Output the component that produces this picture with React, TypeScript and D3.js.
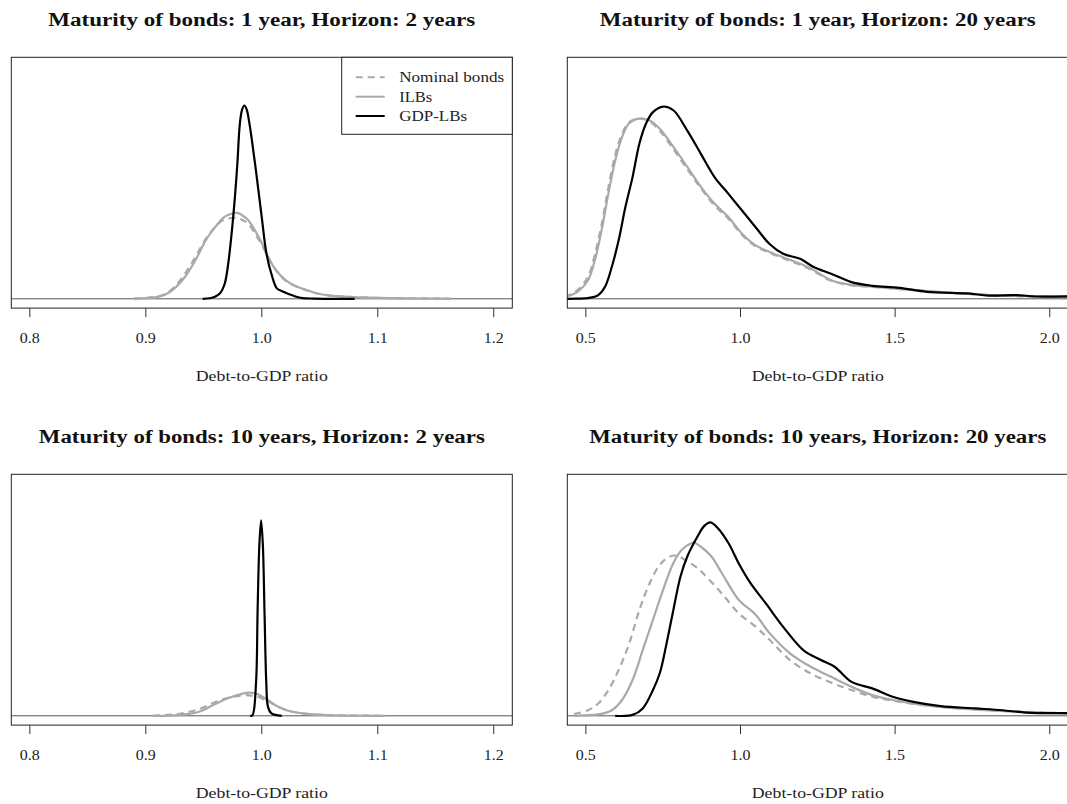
import React from "react";
import * as d3 from "d3";

// ---------- data ----------
const seriesNames = ["Nominal bonds", "ILBs", "GDP-LBs"];
const titles = [
  "Maturity of bonds: 1 year, Horizon: 2 years",
  "Maturity of bonds: 1 year, Horizon: 20 years",
  "Maturity of bonds: 10 years, Horizon: 2 years",
  "Maturity of bonds: 10 years, Horizon: 20 years",
];
const xLabel = "Debt-to-GDP ratio";
const ticksShort = [0.8, 0.9, 1.0, 1.1, 1.2];
const ticksLong = [0.5, 1.0, 1.5, 2.0];
const xlimShort = [0.8, 1.2];
const xlimLong = [0.5, 2.0];
const ymaxs = [40, 2.5, 190, 2.5];

// Panel 1: maturity 1y, horizon 2y
const p1Nominal = [[0.89,0.04],[0.908,0.32],[0.9165,0.8],[0.925,2.1],[0.934,4.4],[0.943,7.3],[0.952,10.4],[0.96,12.4],[0.967,13.6],[0.973,13.9],[0.979,13.9],[0.983,13.6],[0.988,13.0],[0.994,11.3],[1.0,9.3],[1.006,7.0],[1.012,5.0],[1.02,3.2],[1.029,2.2],[1.038,1.5],[1.047,0.96],[1.059,0.56],[1.071,0.36],[1.1,0.16],[1.16,0.04]];
const p1ILB = [[0.89,0.04],[0.908,0.24],[0.9165,0.68],[0.925,1.84],[0.934,3.84],[0.943,6.72],[0.952,10.2],[0.96,12.4],[0.967,14.0],[0.973,14.6],[0.979,14.8],[0.983,14.4],[0.988,13.6],[0.994,11.8],[1.0,9.6],[1.006,7.0],[1.012,5.0],[1.02,3.3],[1.029,2.2],[1.038,1.56],[1.047,0.96],[1.059,0.56],[1.071,0.36],[1.1,0.16],[1.163,0.04]];
const p1GDP = [[0.949,0],[0.955,0.1],[0.96,0.4],[0.964,0.96],[0.968,2.6],[0.971,6.0],[0.974,11.3],[0.977,18.0],[0.979,23.5],[0.981,30.0],[0.983,32.6],[0.985,33.3],[0.987,32.6],[0.989,30.6],[0.991,28.0],[0.995,22.0],[1.0,14.0],[1.004,7.8],[1.009,3.8],[1.013,1.8],[1.0175,1.3],[1.023,0.84],[1.029,0.4],[1.035,0.12],[1.045,0.04],[1.08,0]];

// Panel 2: maturity 1y, horizon 20y
const p2Nominal = [[0.43,0.03],[0.44,0.035],[0.473,0.093],[0.507,0.238],[0.529,0.475],[0.551,0.8],[0.573,1.2],[0.595,1.55],[0.617,1.775],[0.64,1.9],[0.673,1.94],[0.706,1.91],[0.739,1.81],[0.783,1.61],[0.828,1.395],[0.872,1.19],[0.916,1.005],[0.961,0.863],[1.005,0.688],[1.049,0.565],[1.094,0.495],[1.16,0.408],[1.226,0.318],[1.293,0.195],[1.359,0.145],[1.426,0.128],[1.514,0.105],[1.647,0.07],[1.758,0.048],[1.869,0.03],[2.07,0.02]];
const p2ILB = [[0.43,0.02],[0.44,0.028],[0.473,0.075],[0.507,0.2],[0.529,0.415],[0.551,0.74],[0.573,1.135],[0.595,1.49],[0.617,1.74],[0.64,1.89],[0.673,1.94],[0.706,1.92],[0.739,1.83],[0.783,1.635],[0.828,1.42],[0.872,1.205],[0.916,1.025],[0.961,0.88],[1.005,0.7],[1.049,0.575],[1.094,0.505],[1.16,0.42],[1.226,0.33],[1.293,0.2],[1.359,0.15],[1.426,0.13],[1.514,0.108],[1.647,0.073],[1.758,0.05],[1.869,0.033],[2.07,0.023]];
const p2GDP = [[0.42,0],[0.47,0.002],[0.507,0.008],[0.54,0.04],[0.562,0.13],[0.584,0.345],[0.606,0.63],[0.628,0.99],[0.651,1.31],[0.673,1.67],[0.695,1.89],[0.717,2.01],[0.75,2.07],[0.783,2.03],[0.828,1.81],[0.872,1.56],[0.916,1.31],[0.961,1.13],[1.005,0.95],[1.049,0.77],[1.094,0.59],[1.138,0.485],[1.193,0.43],[1.238,0.34],[1.293,0.27],[1.359,0.18],[1.426,0.14],[1.514,0.118],[1.603,0.075],[1.736,0.058],[1.802,0.035],[1.891,0.04],[1.957,0.025],[2.07,0.028]];

// Panel 3: maturity 10y, horizon 2y
const p3Nominal = [[0.906,0.05],[0.928,1.5],[0.946,5.5],[0.958,10.5],[0.97,14.5],[0.982,16.6],[0.989,16.8],[0.996,15.8],[1.005,12.0],[1.014,7.4],[1.026,3.5],[1.041,1.4],[1.056,0.55],[1.106,0]];
const p3ILB = [[0.906,0],[0.928,0.55],[0.946,3.3],[0.958,8.8],[0.97,14.2],[0.982,17.8],[0.989,18.9],[0.996,17.8],[1.005,12.9],[1.014,7.4],[1.026,3.3],[1.041,1.4],[1.056,0.55],[1.106,0]];
const p3GDP = [[0.99,0],[0.992,0.5],[0.995,26.6],[0.9964,87],[0.9979,140],[0.9994,160],[1.0009,140],[1.0024,82],[1.0039,26.6],[1.0053,7.4],[1.0083,1.9],[1.0172,0]];

// Panel 4: maturity 10y, horizon 20y
const p4Nominal = [[0.462,0.018],[0.507,0.06],[0.54,0.133],[0.573,0.278],[0.606,0.493],[0.64,0.778],[0.673,1.138],[0.706,1.425],[0.739,1.625],[0.772,1.715],[0.795,1.723],[0.828,1.663],[0.861,1.59],[0.894,1.483],[0.939,1.32],[0.994,1.105],[1.049,0.96],[1.094,0.818],[1.16,0.6],[1.226,0.458],[1.293,0.358],[1.359,0.278],[1.426,0.205],[1.492,0.163],[1.592,0.115],[1.703,0.083],[1.869,0.05],[2.07,0.025]];
const p4ILB = [[0.462,0.003],[0.54,0.015],[0.584,0.06],[0.617,0.17],[0.651,0.385],[0.684,0.71],[0.717,1.033],[0.75,1.358],[0.783,1.645],[0.811,1.79],[0.839,1.855],[0.85,1.863],[0.872,1.82],[0.905,1.72],[0.939,1.54],[0.994,1.25],[1.049,1.088],[1.094,0.89],[1.16,0.673],[1.226,0.53],[1.293,0.42],[1.359,0.313],[1.426,0.223],[1.492,0.17],[1.592,0.115],[1.703,0.08],[1.869,0.048],[2.07,0.025]];
const p4GDP = [[0.595,0],[0.651,0.01],[0.684,0.08],[0.717,0.278],[0.739,0.458],[0.761,0.78],[0.783,1.14],[0.806,1.5],[0.828,1.715],[0.861,1.93],[0.883,2.045],[0.903,2.083],[0.927,2.02],[0.961,1.86],[0.994,1.643],[1.033,1.425],[1.082,1.21],[1.138,0.958],[1.204,0.705],[1.26,0.6],[1.304,0.528],[1.359,0.365],[1.426,0.295],[1.492,0.205],[1.559,0.15],[1.647,0.105],[1.758,0.08],[1.847,0.06],[1.924,0.035],[2.07,0.03]];

const panelSeries = [
  [p1Nominal, p1ILB, p1GDP],
  [p2Nominal, p2ILB, p2GDP],
  [p3Nominal, p3ILB, p3GDP],
  [p4Nominal, p4ILB, p4GDP],
];

// ---------- styles ----------
const GRAY = "#a9a9a9";
const styles = [
  { stroke: GRAY, dash: "7,5" },
  { stroke: GRAY, dash: null },
  { stroke: "#000", dash: null },
];
const FONT = "'Liberation Serif', 'Times New Roman', serif";
const titleWidths = [427, 436, 446, 457];
const legendTextWidths = [105, 33, 68];

const colLeft = [11.3, 567.3];
const plotW = 501;
const rowTop = [57.3, 474.3];
const plotH = 250.8;

function extend(lim: number[]) {
  const r = lim[1] - lim[0];
  return [lim[0] - 0.04 * r, lim[1] + 0.04 * r];
}

function Panel({ idx }: { idx: number }) {
  const col = idx % 2;
  const row = Math.floor(idx / 2);
  const left = colLeft[col];
  const top = rowTop[row];
  const right = left + plotW;
  const bottom = top + plotH;
  const xlim = col === 0 ? xlimShort : xlimLong;
  const ticks = col === 0 ? ticksShort : ticksLong;
  const x = d3.scaleLinear().domain(extend(xlim)).range([left, right]);
  const y = d3.scaleLinear().domain(extend([0, ymaxs[idx]])).range([bottom, top]);
  const line = d3
    .line<number[]>()
    .x((d) => x(d[0]))
    .y((d) => Math.min(y(d[1]), y(0)))
    .curve(d3.curveCatmullRom.alpha(0.5));
  const clipId = `clip${idx}`;
  const cx = (left + right) / 2;
  return (
    <g>
      <defs>
        <clipPath id={clipId}>
          <rect x={left} y={top} width={plotW} height={plotH} />
        </clipPath>
      </defs>
      <text
        x={cx}
        y={top - 31.8}
        textAnchor="middle"
        fontFamily={FONT}
        fontWeight="bold"
        fontSize={18}
        fill="#111"
        textLength={titleWidths[idx]}
        lengthAdjust="spacingAndGlyphs"
      >
        {titles[idx]}
      </text>
      <line x1={left} x2={right} y1={y(0)} y2={y(0)} stroke="#555" strokeWidth={1} />
      <g clipPath={`url(#${clipId})`}>
        {panelSeries[idx].map((s, i) => (
          <path
            key={i}
            d={line(s) || ""}
            fill="none"
            stroke={styles[i].stroke}
            strokeWidth={2.2}
            strokeDasharray={styles[i].dash || undefined}
            strokeLinejoin="round"
          />
        ))}
      </g>
      <rect x={left} y={top} width={plotW} height={plotH} fill="none" stroke="#222" strokeWidth={1} />
      {ticks.map((t) => (
        <g key={t}>
          <line x1={x(t)} x2={x(t)} y1={bottom} y2={bottom + 9} stroke="#333" strokeWidth={1} />
          <text
            x={x(t)}
            y={bottom + 34.5}
            textAnchor="middle"
            fontFamily={FONT}
            fontSize={14}
            fill="#222"
            textLength={20}
            lengthAdjust="spacingAndGlyphs"
          >
            {d3.format(".1f")(t)}
          </text>
        </g>
      ))}
      <text
        x={cx}
        y={bottom + 73}
        textAnchor="middle"
        fontFamily={FONT}
        fontSize={14.5}
        fill="#222"
        textLength={132}
        lengthAdjust="spacingAndGlyphs"
      >
        {xLabel}
      </text>
      {idx === 0 && <Legend right={right} top={top} />}
    </g>
  );
}

function Legend({ right, top }: { right: number; top: number }) {
  const w = 170.6;
  const h = 77;
  const lx = right - w;
  const rows = [77.3, 96.7, 116];
  return (
    <g>
      <rect x={lx} y={top} width={w} height={h} fill="#fff" stroke="#222" strokeWidth={1} />
      {seriesNames.map((n, i) => (
        <g key={n}>
          <line
            x1={lx + 14}
            x2={lx + 43}
            y1={rows[i]}
            y2={rows[i]}
            stroke={styles[i].stroke}
            strokeWidth={2}
            strokeDasharray={styles[i].dash || undefined}
          />
          <text
            x={lx + 57.5}
            y={rows[i] + 4.8}
            fontFamily={FONT}
            fontSize={15}
            fill="#222"
            textLength={legendTextWidths[i]}
            lengthAdjust="spacingAndGlyphs"
          >
            {n}
          </text>
        </g>
      ))}
    </g>
  );
}

export default function App() {
  return (
    <svg
      width={1067}
      height={804}
      style={{ position: "absolute", left: 0, top: 0, background: "#fff" }}
    >
      <rect x={0} y={0} width={1067} height={804} fill="#fff" />
      {[0, 1, 2, 3].map((i) => (
        <Panel key={i} idx={i} />
      ))}
    </svg>
  );
}
